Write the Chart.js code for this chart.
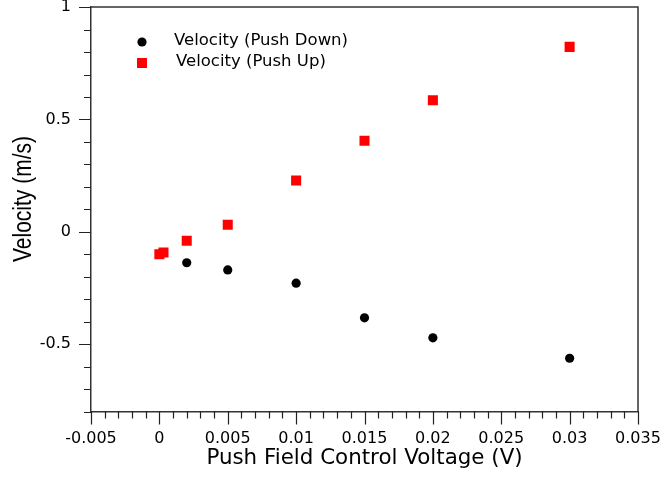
<!DOCTYPE html>
<html lang="en">
<head>
<meta charset="UTF-8">
<title>Velocity vs Push Field Control Voltage</title>
<script src="https://cdn.jsdelivr.net/npm/chart.js"></script>
<style>
  body { margin: 0; background: #fff; }
  #wrap { width: 662px; height: 477px; }
</style>
</head>
<body>
<div id="wrap"><canvas id="chart"></canvas></div>
<script>
// values
const voltsDown = [0.002, 0.005, 0.01, 0.015, 0.02, 0.03];
const velDown   = [-0.138, -0.170, -0.229, -0.383, -0.472, -0.563];
const voltsUp   = [0, 0.0003, 0.002, 0.005, 0.01, 0.015, 0.02, 0.03];
const velUp     = [-0.100, -0.092, -0.040, 0.031, 0.228, 0.405, 0.585, 0.823];

const xTicks = [-0.005, 0, 0.005, 0.01, 0.015, 0.02, 0.025, 0.03, 0.035];
const yTicks = [-0.5, 0, 0.5, 1];
const xRange = [-0.005, 0.035];
const yRange = [-0.8, 1];
const xMinorStep = 0.001;
const yMinorStep = 0.1;

const pts = (xs, ys) => xs.map((v, i) => ({ x: v, y: ys[i] }));

// tick marks, top/right frame, legend and y title
const framePlugin = {
  id: 'frame',
  afterDraw(chart) {
    const { ctx, chartArea: a, scales: { x, y } } = chart;
    ctx.save();
    ctx.strokeStyle = '#222';
    ctx.lineWidth = 1.2;
    ctx.beginPath();
    let n = Math.round((xRange[1] - xRange[0]) / xMinorStep);
    for (let i = 0; i <= n; i++) {
      const px = Math.round(x.getPixelForValue(xRange[0] + i * xMinorStep)) + 0.5;
      ctx.moveTo(px, a.bottom);
      ctx.lineTo(px, a.bottom + 7);
    }
    xTicks.forEach(v => {
      const px = Math.round(x.getPixelForValue(v)) + 0.5;
      ctx.moveTo(px, a.bottom);
      ctx.lineTo(px, a.bottom + 13);
    });
    n = Math.round((yRange[1] - yRange[0]) / yMinorStep);
    for (let i = 0; i <= n; i++) {
      const py = Math.round(y.getPixelForValue(yRange[0] + i * yMinorStep)) + 0.5;
      ctx.moveTo(a.left - 7, py);
      ctx.lineTo(a.left, py);
    }
    yTicks.forEach(v => {
      const py = Math.round(y.getPixelForValue(v)) + 0.5;
      ctx.moveTo(a.left - 12, py);
      ctx.lineTo(a.left, py);
    });
    ctx.stroke();

    ctx.strokeStyle = '#333';
    ctx.lineWidth = 1.5;
    ctx.beginPath();
    ctx.moveTo(a.left, a.top);
    ctx.lineTo(a.right, a.top);
    ctx.lineTo(a.right, a.bottom);
    ctx.stroke();

    // legend
    ctx.font = '16.5px "DejaVu Sans"';
    ctx.textBaseline = 'middle';
    ctx.textAlign = 'left';
    chart.data.datasets.forEach((ds, i) => {
      const my = 42 + i * 21;
      ctx.fillStyle = ds.backgroundColor;
      if (ds.pointStyle === 'rect') {
        ctx.fillRect(137, my - 5, 10, 10);
      } else {
        ctx.beginPath();
        ctx.arc(142, my, 4.6, 0, Math.PI * 2);
        ctx.fill();
      }
      ctx.fillStyle = '#000';
      ctx.fillText(ds.label, i === 0 ? 174 : 176, my - 1);
    });

    // y title, slightly widened like the original
    ctx.translate(24, 199);
    ctx.scale(1.25, 1);
    ctx.rotate(-Math.PI / 2);
    ctx.font = '21px "Liberation Sans"';
    ctx.textAlign = 'center';
    ctx.fillText('Velocity (m/s)', 0, 0);
    ctx.restore();
  }
};

new Chart(document.getElementById('chart'), {
  type: 'scatter',
  data: {
    datasets: [
      {
        label: 'Velocity (Push Down)',
        data: pts(voltsDown, velDown),
        backgroundColor: '#000000',
        borderColor: '#000000',
        pointStyle: 'circle',
        pointRadius: 4.6,
        pointBorderWidth: 0
      },
      {
        label: 'Velocity (Push Up)',
        data: pts(voltsUp, velUp),
        backgroundColor: '#ff0000',
        borderColor: '#ff0000',
        pointStyle: 'rect',
        pointRadius: 7.1,
        pointBorderWidth: 0
      }
    ]
  },
  options: {
    responsive: true,
    maintainAspectRatio: false,
    animation: false,
    layout: { padding: { left: 0, right: 24, top: 7, bottom: 0 } },
    plugins: { legend: { display: false }, tooltip: { enabled: false } },
    scales: {
      x: {
        type: 'linear',
        position: 'bottom',
        min: xRange[0],
        max: xRange[1],
        afterBuildTicks: s => { s.ticks = xTicks.map(v => ({ value: v })); },
        afterFit: s => { s.height = 65.5; },
        ticks: {
          font: { family: 'DejaVu Sans', size: 16 },
          color: '#000',
          padding: 0,
          maxRotation: 0,
          autoSkip: false,
          callback: v => String(+v.toFixed(3))
        },
        grid: { drawOnChartArea: false, tickLength: 18, tickColor: 'rgba(0,0,0,0)' },
        border: { color: '#333', width: 1.5 },
        title: {
          display: true,
          text: 'Push Field Control Voltage (V)',
          font: { family: 'DejaVu Sans', size: 21.4 },
          color: '#000',
          padding: { top: 0, bottom: 6 }
        }
      },
      y: {
        type: 'linear',
        position: 'left',
        min: yRange[0],
        max: yRange[1],
        afterBuildTicks: s => { s.ticks = yTicks.map(v => ({ value: v })); },
        afterFit: s => { s.width = 91; },
        ticks: {
          font: { family: 'DejaVu Sans', size: 16, lineHeight: 0.8 },
          color: '#000',
          padding: 0,
          callback: v => String(v)
        },
        grid: { drawOnChartArea: false, tickLength: 20, tickColor: 'rgba(0,0,0,0)' },
        border: { color: '#333', width: 1.5 }
      }
    }
  },
  plugins: [framePlugin]
});
</script>
</body>
</html>
